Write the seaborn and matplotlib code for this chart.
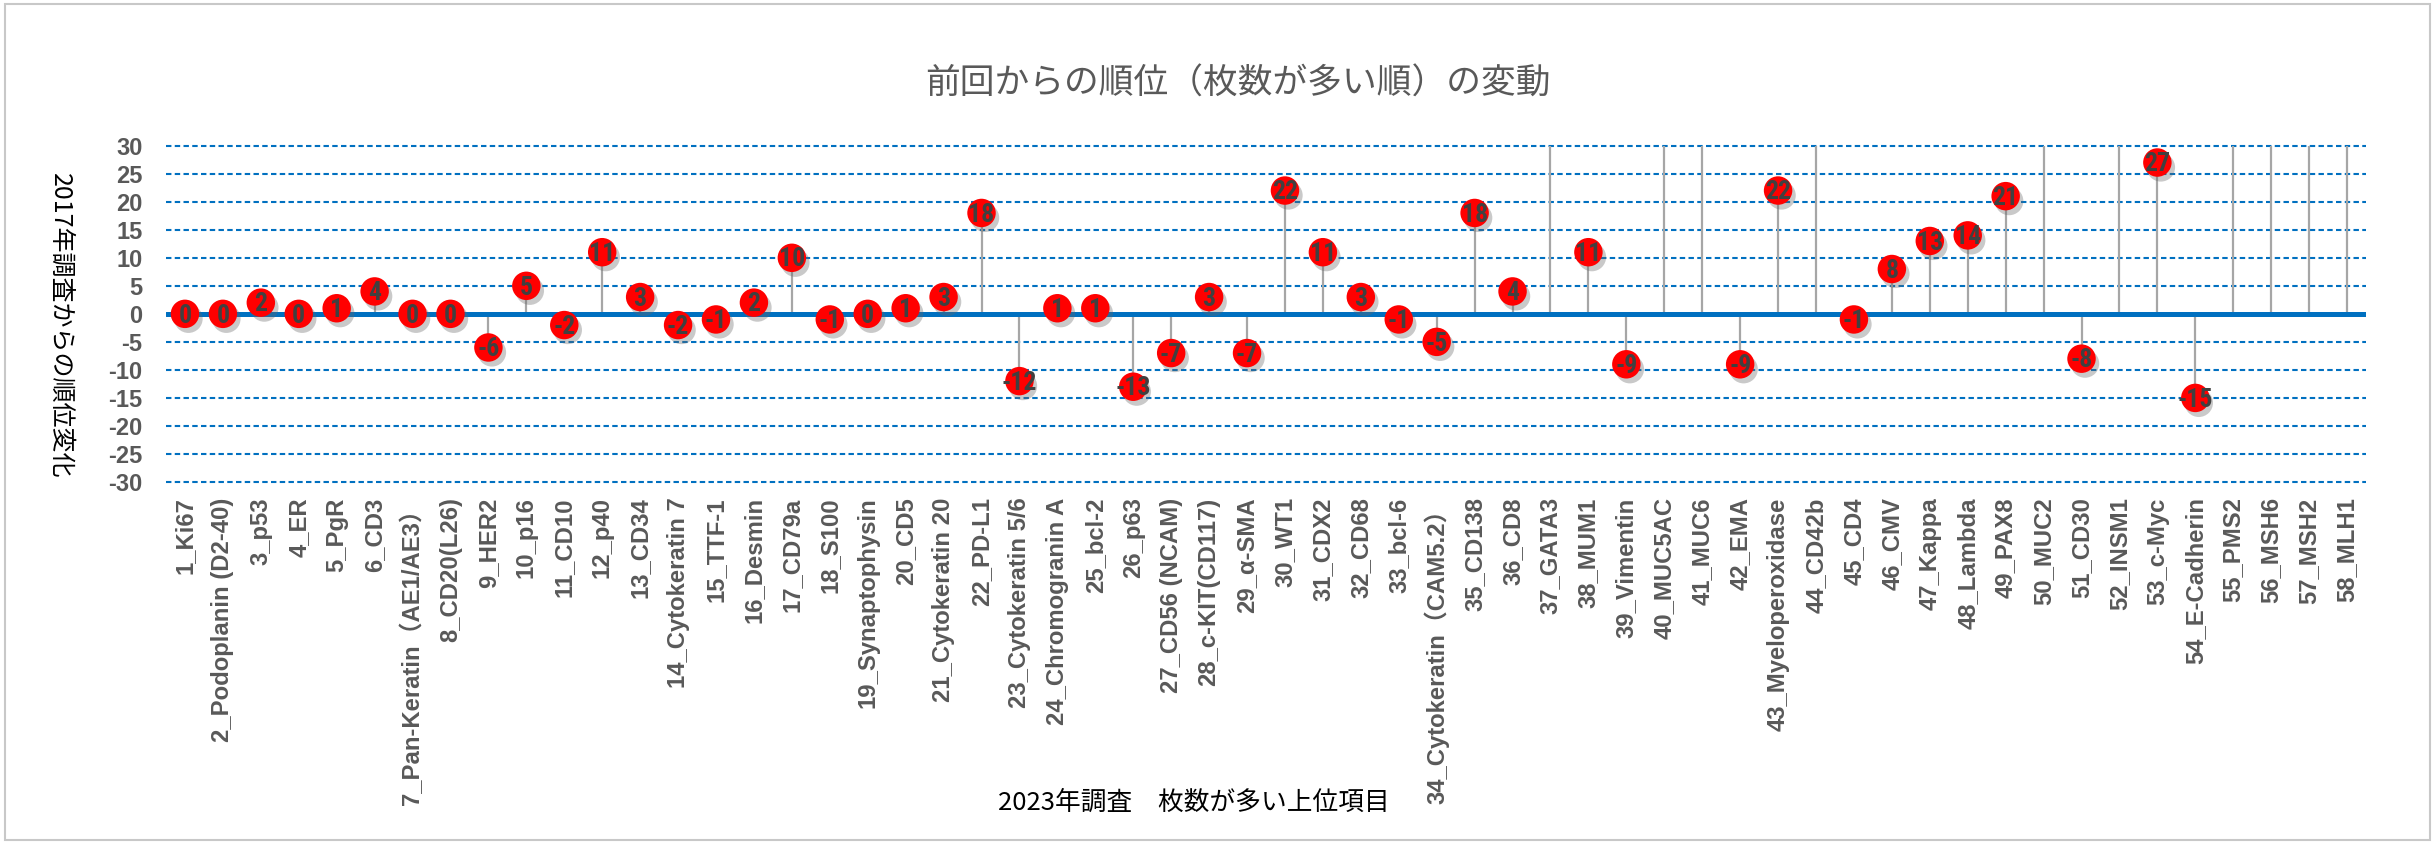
import numpy as np
import pandas as pd
import matplotlib
matplotlib.use("Agg")
import matplotlib.pyplot as plt
import seaborn as sns
from matplotlib import patheffects as pe
from matplotlib.patches import Rectangle
from matplotlib.font_manager import FontProperties

# ---------------- data ----------------
categories = [
    "1_Ki67", "2_Podoplanin (D2-40)", "3_p53", "4_ER", "5_PgR", "6_CD3",
    "7_Pan-Keratin（AE1/AE3）", "8_CD20(L26)", "9_HER2", "10_p16", "11_CD10",
    "12_p40", "13_CD34", "14_Cytokeratin 7", "15_TTF-1", "16_Desmin", "17_CD79a",
    "18_S100", "19_Synaptophysin", "20_CD5", "21_Cytokeratin 20", "22_PD-L1",
    "23_Cytokeratin 5/6", "24_Chromogranin A", "25_bcl-2", "26_p63",
    "27_CD56 (NCAM)", "28_c-KIT(CD117)", "29_α-SMA", "30_WT1", "31_CDX2",
    "32_CD68", "33_bcl-6", "34_Cytokeratin（CAM5.2）", "35_CD138", "36_CD8",
    "37_GATA3", "38_MUM1", "39_Vimentin", "40_MUC5AC", "41_MUC6", "42_EMA",
    "43_Myeloperoxidase", "44_CD42b", "45_CD4", "46_CMV", "47_Kappa",
    "48_Lambda", "49_PAX8", "50_MUC2", "51_CD30", "52_INSM1", "53_c-Myc",
    "54_E-Cadherin", "55_PMS2", "56_MSH6", "57_MSH2", "58_MLH1",
]
# None = item not ranked in 2017 (new entry; stem runs to the top of the axis)
rank_change = [
    0, 0, 2, 0, 1, 4, 0, 0, -6, 5, -2, 11, 3, -2, -1, 2, 10, -1, 0, 1, 3, 18,
    -12, 1, 1, -13, -7, 3, -7, 22, 11, 3, -1, -5, 18, 4, None, 11, -9, None,
    None, -9, 22, None, -1, 8, 13, 14, 21, None, -8, None, 27, -15, None, None,
    None, None,
]
y_ticks = list(range(-30, 31, 5))

title = "前回からの順位（枚数が多い順）の変動"
x_title = "2023年調査　枚数が多い上位項目"
y_title = "2017年調査からの順位変化"

# ---------------- style ----------------
sns.set_style("white")
plt.rcParams["font.family"] = ["Noto Sans CJK JP", "DejaVu Sans"]

W, H = 2435, 844
fig = plt.figure(figsize=(W / 100, H / 100), dpi=100)
fig.patch.set_facecolor("white")
ax = fig.add_axes([166 / W, 1 - 482 / H, (2366 - 166) / W, (482 - 145.7) / H])

df = pd.DataFrame({"item": categories,
                   "change": [np.nan if v is None else v for v in rank_change]})
df["pos"] = np.arange(len(df))
df["new"] = df["change"].isna()

ax.set_xlim(-0.5, len(categories) - 0.5)
ax.set_ylim(y_ticks[0], y_ticks[-1])
ax.yaxis.grid(True, color="#0070C0", lw=1.5, linestyle=(0, (2.6, 1.6)), zorder=0)
ax.set_axisbelow(True)

# stems
ranked = df[~df["new"]]
ax.vlines(ranked["pos"], 0, ranked["change"], color="#A6A6A6", lw=1.6, zorder=2)
newer = df[df["new"]]
ax.vlines(newer["pos"], 0, ax.get_ylim()[1], color="#A6A6A6", lw=1.6, zorder=2)

# zero line
ax.axhline(0, color="#0070C0", lw=3.6, zorder=2.5)

# markers
sns.scatterplot(data=ranked, x="pos", y="change", ax=ax, s=420, color="#FF0000",
                edgecolor="none", linewidth=0, zorder=3, legend=False, clip_on=False)
for coll in ax.collections[-1:]:
    coll.set_path_effects([pe.SimplePatchShadow(offset=(2.5, -3.5), shadow_rgbFace="#666666",
                                                alpha=0.35), pe.Normal()])

# value labels
lab_fp = FontProperties(family="Roboto Condensed", weight="bold", size=18.5)
for _, r in ranked.iterrows():
    ax.text(r["pos"], r["change"] - 0.3, f"{int(r['change'])}", ha="center", va="center",
            fontproperties=lab_fp, color="#404040", zorder=4)

# axes cosmetics
for sp in ax.spines.values():
    sp.set_visible(False)
ax.set_xticks(df["pos"])
ax.set_yticks(y_ticks)
ax.tick_params(axis="x", length=0, pad=11)
ax.tick_params(axis="y", length=0, pad=17)
ax.set_xticklabels(df["item"], rotation=90, va="top", ha="center",
                   family=["Liberation Sans", "Noto Sans CJK JP"], weight="bold",
                   size=17.2, color="#595959")
ax.set_yticklabels([str(t) for t in y_ticks], family=["Liberation Sans", "DejaVu Sans"],
                   weight="bold", size=17, color="#595959")
for gl in ax.get_ygridlines():
    gl.set_clip_on(False)
ax.set_xlabel("")
ax.set_ylabel("")

# titles
fig.text(1238 / W, 1 - 84 / H, title, ha="center", va="center", fontsize=25,
         color="#595959")
fig.text(1194 / W, 1 - 803 / H, x_title, ha="center", va="center", fontsize=18.5,
         color="#000000")
fig.text(60 / W, 1 - 326 / H, y_title, ha="center", va="center", fontsize=18,
         rotation=270, color="#000000")

# outer chart border
fig.patches.append(Rectangle((5 / W, 4 / H), (W - 10) / W, (H - 8) / H,
                             transform=fig.transFigure, fill=False,
                             edgecolor="#C8C8C8", lw=1.5))

fig.savefig("out.png", dpi=100, facecolor="white")
